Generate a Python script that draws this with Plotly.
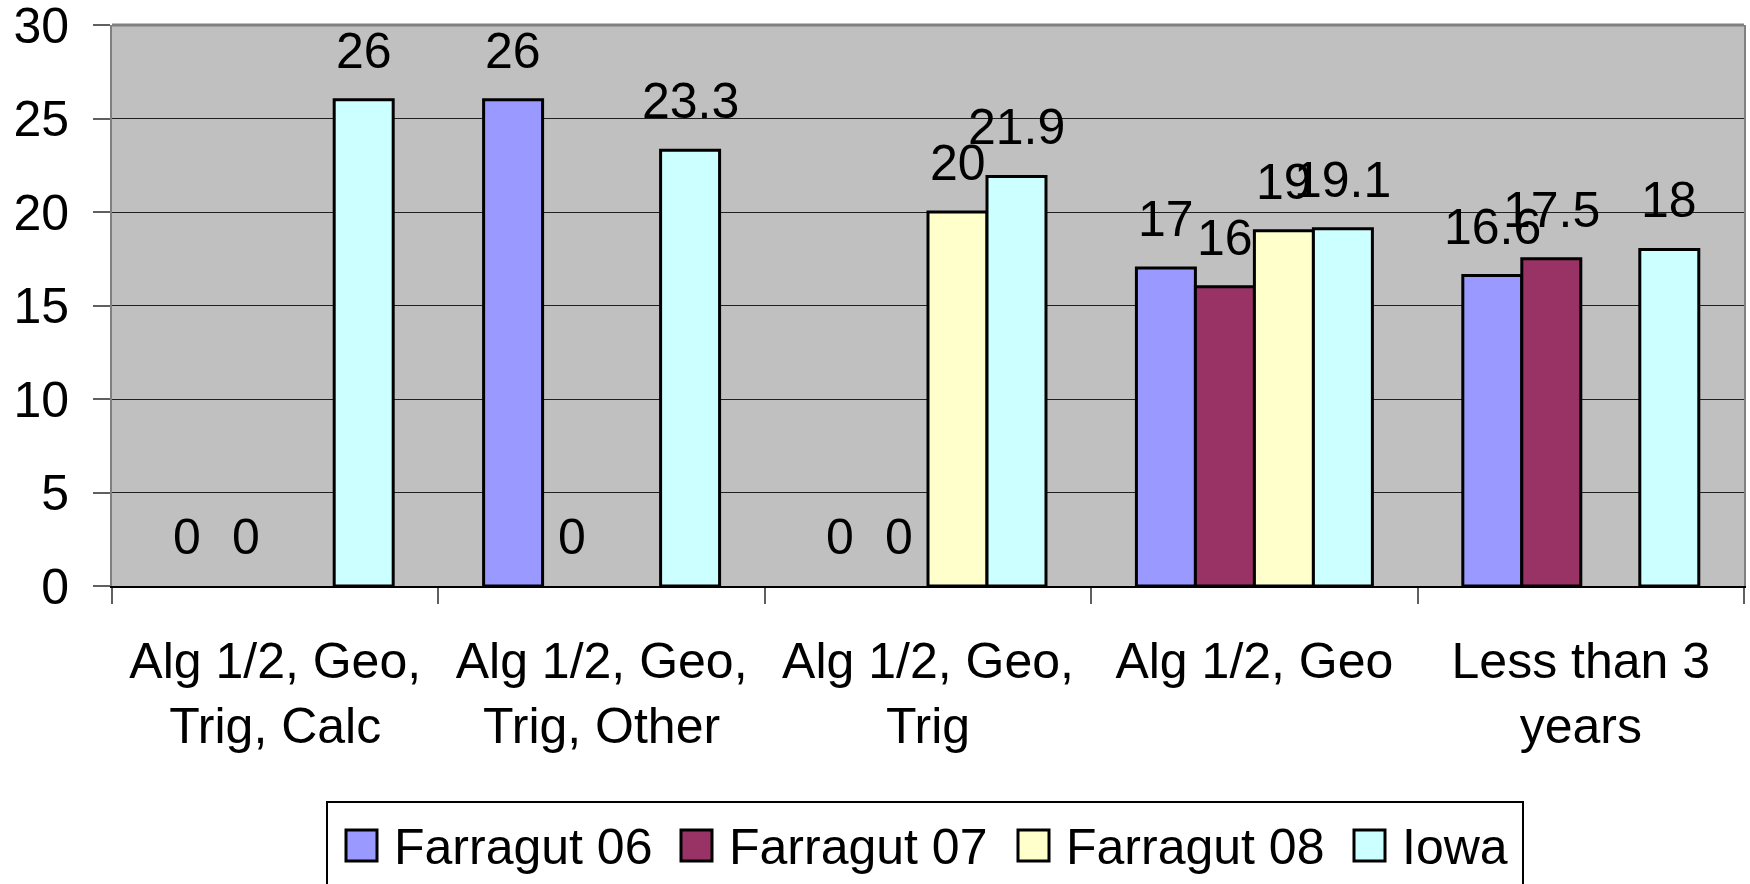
import plotly.graph_objects as go

categories = ["Alg 1/2, Geo, Trig, Calc", "Alg 1/2, Geo, Trig, Other",
              "Alg 1/2, Geo, Trig", "Alg 1/2, Geo", "Less than 3 years"]
tick_labels = ["Alg 1/2, Geo,<br>Trig, Calc", "Alg 1/2, Geo,<br>Trig, Other",
               "Alg 1/2, Geo,<br>Trig", "Alg 1/2, Geo", "Less than 3<br>years"]
series_names = ["Farragut 06", "Farragut 07", "Farragut 08", "Iowa"]
farragut_06 = [0, 26, 0, 17, 16.6]
farragut_07 = [0, 0, 0, 16, 17.5]
farragut_08 = [None, None, 20, 19, None]
iowa = [26, 23.3, 21.9, 19.1, 18]
y_ticks = [0, 5, 10, 15, 20, 25, 30]

series_values = [farragut_06, farragut_07, farragut_08, iowa]
colors = ["#9999FF", "#993366", "#FFFFCC", "#CCFFFF"]

W, H = 1750, 884
ML, MR, MT, MB = 112, 6, 25, 298
PLOT_L, PLOT_R, PLOT_T, PLOT_B = ML, W - MR, MT, H - MB
PW, PH = PLOT_R - PLOT_L, PLOT_B - PLOT_T
BARGAP = 0.277
FONT = "Arial, Liberation Sans, sans-serif"
FS = 50


def px_x(p):
    return (p - PLOT_L) / PW


def px_y(p):
    return (PLOT_B - p) / PH


fig = go.Figure()
for name, vals, col in zip(series_names, series_values, colors):
    fig.add_trace(go.Bar(
        name=name, x=categories, y=vals,
        marker=dict(color=col, line=dict(color="black",
                                         width=[0 if not v else 3 for v in vals])),
        showlegend=False, hoverinfo="x+y+name",
    ))

# data labels
n = len(series_names)
w = (1 - BARGAP) / n
annotations = []
for j, vals in enumerate(series_values):
    for i, v in enumerate(vals):
        if v is None:
            continue
        annotations.append(dict(
            x=i + (j - (n - 1) / 2) * w, y=v, xref="x", yref="y",
            text=f"{v:g}", showarrow=False, yanchor="bottom", xanchor="center",
            yshift=19, font=dict(family=FONT, size=FS, color="black"),
        ))

# legend (manual, to match the boxed layout)
shapes = []
shapes.append(dict(type="rect", xref="paper", yref="paper",
                   x0=px_x(327), x1=px_x(1523), y0=px_y(900), y1=px_y(802),
                   line=dict(color="black", width=2), fillcolor="white", layer="above"))
swatch_left = [346, 681, 1018, 1354]
for name, col, sx in zip(series_names, colors, swatch_left):
    shapes.append(dict(type="rect", xref="paper", yref="paper",
                       x0=px_x(sx), x1=px_x(sx + 31), y0=px_y(861), y1=px_y(830),
                       line=dict(color="black", width=3), fillcolor=col, layer="above"))
    annotations.append(dict(
        x=px_x(sx + 46), y=px_y(847), xref="paper", yref="paper",
        text=name, showarrow=False, xanchor="left", yanchor="middle",
        font=dict(family=FONT, size=FS, color="black"),
    ))

# top border of plot area
shapes.append(dict(type="line", xref="paper", yref="paper", x0=0, x1=1, y0=1, y1=1,
                   line=dict(color="#808080", width=3), layer="above"))

fig.update_layout(
    width=W, height=H,
    margin=dict(l=ML, r=MR, t=MT, b=MB, pad=0, autoexpand=False),
    barmode="group", bargap=BARGAP, bargroupgap=0,
    plot_bgcolor="#C0C0C0", paper_bgcolor="white",
    font=dict(family=FONT, size=FS, color="black"),
    annotations=annotations, shapes=shapes,
    xaxis=dict(
        type="category", tickmode="array", tickvals=categories, ticktext=tick_labels,
        tickson="boundaries", ticks="outside", ticklen=16, tickwidth=2, tickcolor="#606060",
        showline=True, linecolor="black", linewidth=2, showgrid=False, automargin=False,
        tickfont=dict(family=FONT, size=FS, color="black"), ticklabelstandoff=30,
    ),
    yaxis=dict(
        range=[0, 30], tickvals=y_ticks, ticks="outside", ticklen=17, tickwidth=2,
        tickcolor="#606060", showline=True, mirror=True, linecolor="#808080", linewidth=2,
        showgrid=True, gridcolor="#202020", gridwidth=1, zeroline=False, automargin=False,
        tickfont=dict(family=FONT, size=FS, color="black"), ticklabelstandoff=14,
        ticklabeloverflow="allow",
    ),
)

fig.write_html("out.html",
               config={"displayModeBar": False},
               post_script="document.body.style.margin='0';"
                           "document.body.style.overflow='hidden';")
